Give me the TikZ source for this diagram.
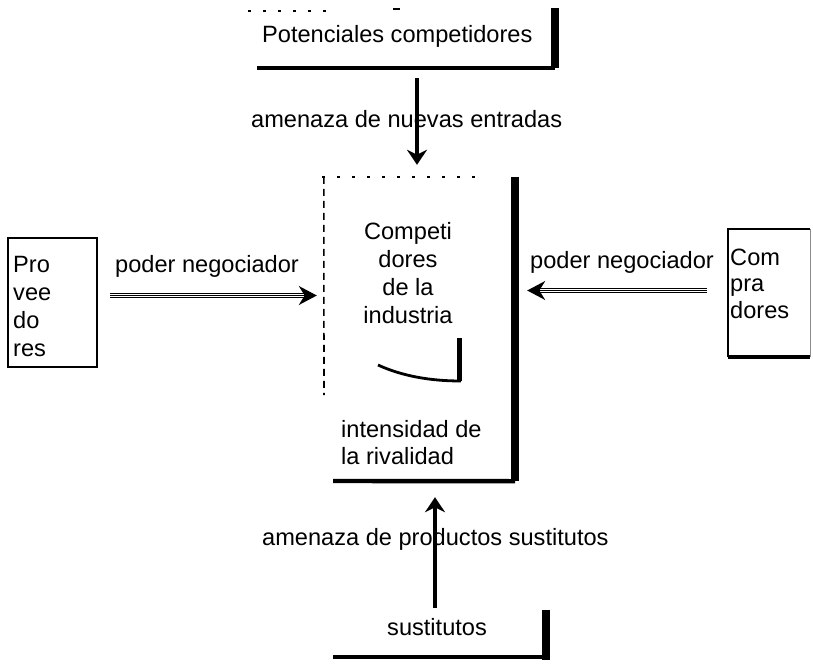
\documentclass[tikz,border=0pt]{standalone}
\usepackage{fontspec}
\setmainfont{Liberation Sans}
\usetikzlibrary{arrows.meta}

\begin{document}
\begin{tikzpicture}[x=1pt,y=-1pt,
  lbl/.style={inner sep=0pt, font=\fontsize{23.6}{28}\selectfont},
  frame/.style={rectangle, inner sep=0pt, draw=none},
  thinline/.style={line width=1.5pt},
  heavyline/.style={line width=7.5pt},
  baseline rule/.style={line width=4.4pt},
  brokenline/.style={line width=1.6pt, dash pattern=on 7pt off 5pt},
  sparseline/.style={line width=1.6pt, dash pattern=on 3pt off 12pt},
  push/.style={line width=3.2pt, -{Stealth[length=15pt,width=20pt]}},
  rail/.style={double, double distance=3pt, line width=1.4pt},
  railhead/.style={line width=1.4pt, -{Stealth[length=18pt,width=19pt]}}
]
\useasboundingbox (0,0) rectangle (813,669);

% ---- boxes (outlines drawn separately below) ----
\node[frame, minimum width=298pt, minimum height=60pt]  (poten) at (406,38) {};
\node[frame, minimum width=191pt, minimum height=304pt] (cbox)  at (419.5,329) {};
\node[frame, minimum width=89pt,  minimum height=129pt] (prov)  at (52.5,302.5) {};
\node[frame, minimum width=82pt,  minimum height=128pt] (comp)  at (769,293) {};
\node[frame, minimum width=213pt, minimum height=47pt]  (sust)  at (439.5,633.5) {};

% potential entrants
\draw[sparseline, line width=1.2pt] (248,11) -- (332,11);
\draw[line width=1.6pt] (393,9) -- (400,9);
\draw[baseline rule] (poten.south west) -- (poten.south east);
\draw[heavyline] (poten.south east) -- (poten.north east);

% industry competitors
\draw[sparseline] (322,177) -- (478,177);
\draw[brokenline] (cbox.north west) -- (324,395);
\draw[heavyline] (cbox.north east) -- (cbox.south east);
\draw[baseline rule] (333,481) -- (cbox.south east);
\draw[line width=5pt] (459,338) -- (459,381);
\draw[line width=2.8pt] (378,365) .. controls (402,376) and (430,381) .. (461,381);

% suppliers
\draw[thinline] (prov.south west) rectangle (prov.north east);
\draw[line width=2.2pt] (prov.south west) -- (prov.south east);

% buyers
\draw[thinline] (comp.south west) -- (comp.north west) -- (comp.north east);
\draw[line width=1pt, black!45] (comp.north east) -- (comp.south east);
\draw[baseline rule] (comp.south west) -- (comp.south east);

% substitutes
\draw[baseline rule] (sust.south west) -- (sust.south east);
\draw[heavyline] (sust.north east) -- ([yshift=-3pt]sust.south east);

% ---- texts (multi-line labels are anchored on their last line) ----
\node[lbl, anchor=base west] (tpoten) at (262,43) {Potenciales competidores};
\node[lbl, anchor=base west] (tnew) at (251,127) {amenaza de nuevas entradas};
\node[lbl, anchor=base west] (tpowl) at (115,272) {poder negociador};
\node[lbl, anchor=base west] (tpowr) at (530,268) {poder negociador};
\node[lbl, anchor=base west, align=left] (tprov) at (13,356) {Pro\\vee\\do\\res};
\node[lbl, anchor=base west, align=left, font=\fontsize{23.6}{26.5}\selectfont] (tcomp) at (730,318) {Com\\pra\\dores};
\node[lbl, anchor=base, align=center] (tcomps) at (408,323) {Competi\\dores\\de la\\industria};
\node[lbl, anchor=base west, align=left, font=\fontsize{23.6}{27}\selectfont] (triv) at (341,464) {intensidad de\\la rivalidad};
\node[lbl, anchor=base west] (tsubthreat) at (262,545) {amenaza de productos sustitutos};
\node[lbl, anchor=base west] (tsust) at (387,635) {sustitutos};

% ---- forces acting on the industry ----
\coordinate (newx) at (417,0);
\coordinate (subx) at (435,0);
\coordinate (leftrow) at (0,295.5);
\coordinate (rightrow) at (0,290.5);

\draw[push, shorten <=10pt, shorten >=12pt] (newx |- poten.south) -- (newx |- cbox.north);
\draw[push, shorten <=2pt, shorten >=16pt] (subx |- sust.north) -- (subx |- cbox.south);

% bargaining power: a double rail ending in a solid head
\draw[rail, shorten <=13pt, shorten >=15pt] (prov.east |- leftrow) -- (cbox.west |- leftrow);
\draw[railhead, shorten <=13pt, shorten >=7pt] (prov.east |- leftrow) -- (cbox.west |- leftrow);
\draw[rail, shorten <=21pt, shorten >=20pt] (comp.west |- rightrow) -- (cbox.east |- rightrow);
\draw[railhead, shorten <=21pt, shorten >=12pt] (comp.west |- rightrow) -- (cbox.east |- rightrow);
\end{tikzpicture}
\end{document}
